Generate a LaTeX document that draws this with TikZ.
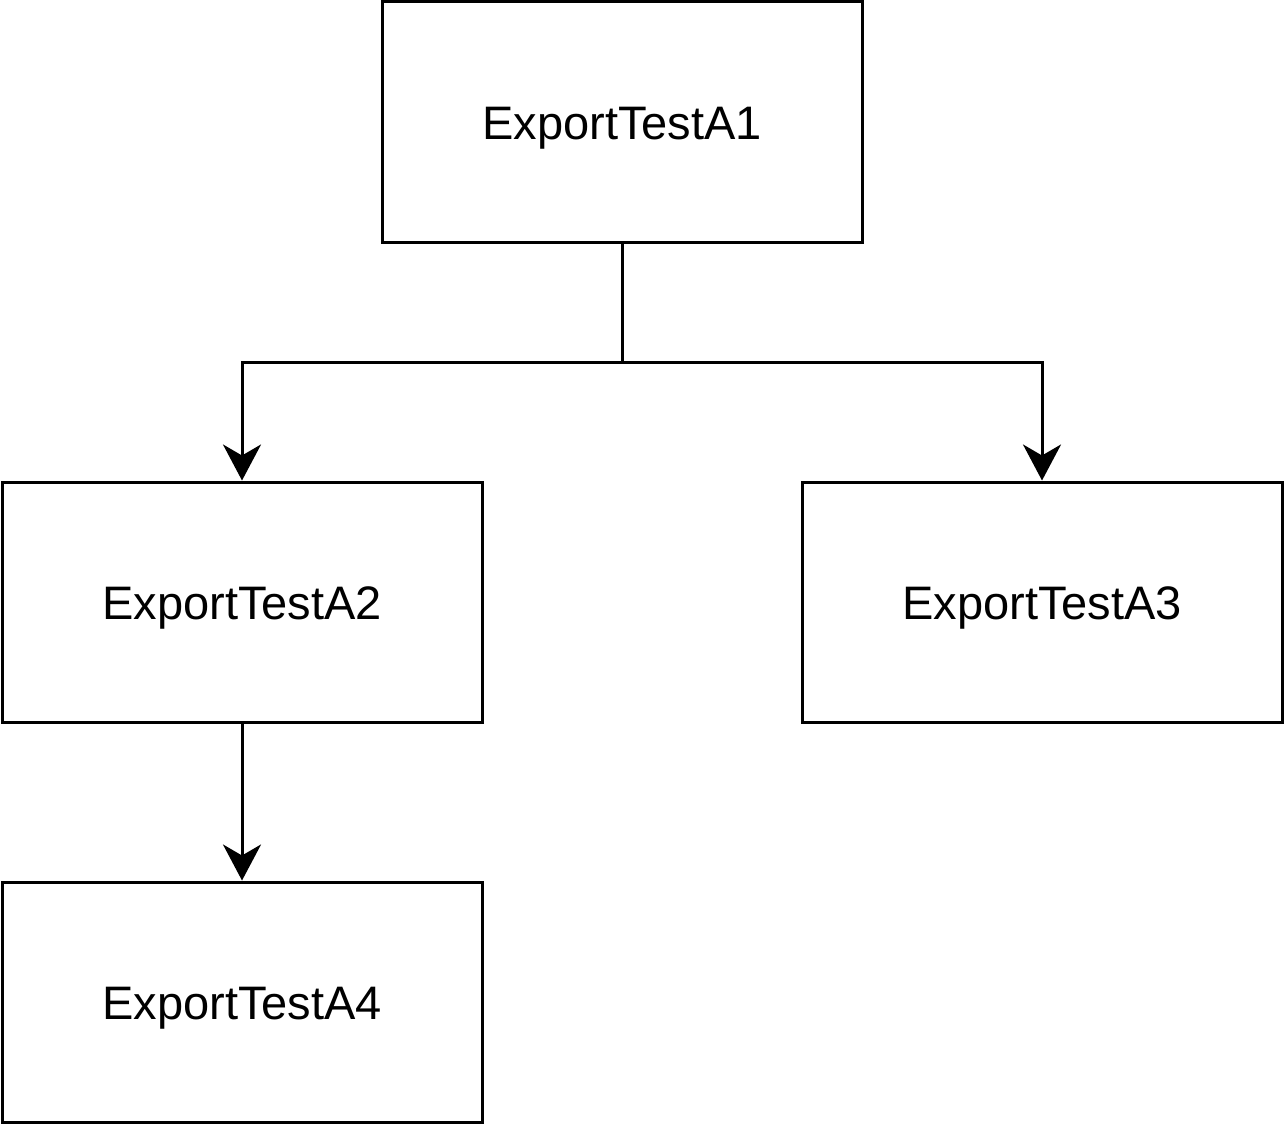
\documentclass[tikz,border=0pt]{standalone}
\usepackage{fontspec}
\setmainfont{Liberation Sans}
\usetikzlibrary{arrows.meta}
\begin{document}
\begin{tikzpicture}[x=1pt,y=-1pt,
  box/.style={draw=black, line width=3pt, minimum width=480pt, minimum height=240pt, inner sep=0pt, text height=34pt, text depth=0pt, font=\fontsize{47}{56}\selectfont},
  conn/.style={line width=3pt, -{Stealth[length=36pt, width=38pt, inset=11pt]}}]
\useasboundingbox (0,0) rectangle (1284,1124);
\node[box] (a1) at (622,122) {ExportTestA1};
\node[box] (a2) at (242,602) {ExportTestA2};
\node[box] (a3) at (1042,602) {ExportTestA3};
\node[box] (a4) at (242,1002) {ExportTestA4};
\coordinate (j) at (622,362);
\draw[line width=3pt] (a1.south) -- (j);
\draw[conn] (j) -| (a2.north);
\draw[conn] (j) -| (a3.north);
\draw[conn] (a2.south) -- (a4.north);
\end{tikzpicture}
\end{document}
